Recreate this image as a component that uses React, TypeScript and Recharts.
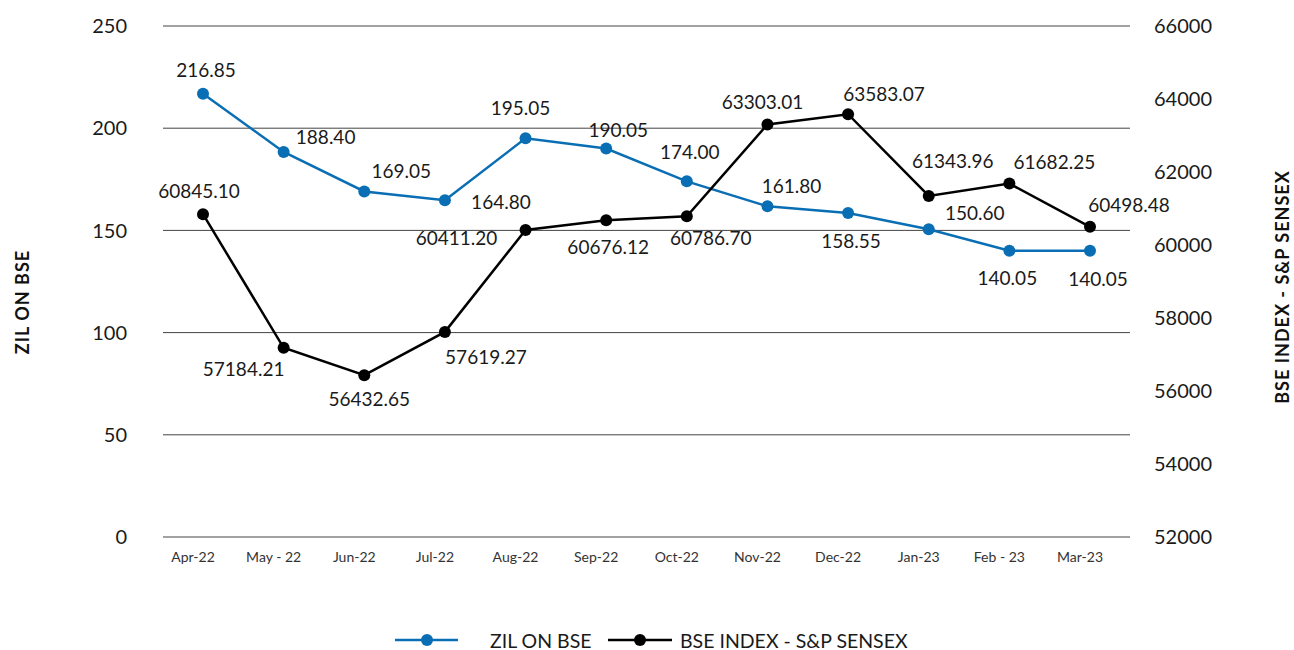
import { LineChart, Line, XAxis, YAxis, CartesianGrid, Legend } from "recharts"

const months = ["Apr-22", "May - 22", "Jun-22", "Jul-22", "Aug-22", "Sep-22", "Oct-22", "Nov-22", "Dec-22", "Jan-23", "Feb - 23", "Mar-23"]
const zilOnBse = [216.85, 188.4, 169.05, 164.8, 195.05, 190.05, 174.0, 161.8, 158.55, 150.6, 140.05, 140.05]
const sensex = [60845.1, 57184.21, 56432.65, 57619.27, 60411.2, 60676.12, 60786.7, 63303.01, 63583.07, 61343.96, 61682.25, 60498.48]
const zilTicks = [0, 50, 100, 150, 200, 250]
const sensexTicks = [52000, 54000, 56000, 58000, 60000, 62000, 64000, 66000]

const ZIL_NAME = "ZIL ON BSE"
const SENSEX_NAME = "BSE INDEX - S&P SENSEX"

// where each value label sits relative to its point (dx, dy)
const zilLabelPos = [[3, -24], [42, -15], [37, -21], [56, 1], [-5, -31], [12, -19], [3, -30], [24, -21], [3, 28], [46, -17], [-2, 27], [8, 28]]
const sensexLabelPos = [[-4, -24], [-40, 21], [5, 23], [41, 25], [-69, 8], [2, 26], [24, 21], [-5, -23], [36, -21], [24, -35], [45, -22], [39, -22]]

const BLUE = "#0a6eb4"
const FONT = "Lato, 'Open Sans', sans-serif"

const data = months.map((m, i) => ({ month: m, zil: zilOnBse[i], sensex: sensex[i] }))

function makeDot(color: string, offsets: number[][], digits: number) {
  return (p: any) => {
    const { cx, cy, index, value } = p
    const [dx, dy] = offsets[index] || [0, -20]
    return (
      <g key={`${color}-${index}`}>
        <circle cx={cx} cy={cy} r={6} fill={color} />
        <text
          x={cx + dx}
          y={cy + dy}
          textAnchor="middle"
          dominantBaseline="central"
          fontSize={19}
          fontFamily={FONT}
          fill="#1a1a1a"
        >
          {Number(value).toFixed(digits)}
        </text>
      </g>
    )
  }
}

function LegendBox() {
  return (
    <div style={{ position: "relative", height: 33 }}>
      <svg width={1294} height={33} style={{ position: "absolute", left: 0, top: 0 }}>
        <line x1={395} x2={458} y1={23} y2={23} stroke={BLUE} strokeWidth={2.5} />
        <circle cx={427} cy={23} r={6} fill={BLUE} />
        <text x={490} y={23} dominantBaseline="central" fontSize={19.5} fontFamily={FONT} fill="#1a1a1a">
          {ZIL_NAME}
        </text>
        <line x1={608} x2={672} y1={23} y2={23} stroke="#000" strokeWidth={2.5} />
        <circle cx={640} cy={23} r={6} fill="#000" />
        <text x={680} y={23} dominantBaseline="central" fontSize={19.5} fontFamily={FONT} fill="#1a1a1a">
          {SENSEX_NAME}
        </text>
      </svg>
    </div>
  )
}

function AxisTitle({ x, y, text }: { x: number; y: number; text: string }) {
  return (
    <text
      x={x}
      y={y}
      transform={`rotate(-90 ${x} ${y})`}
      textAnchor="middle"
      dominantBaseline="central"
      fontSize={18}
      fontWeight={700}
      fontFamily={FONT}
      fill="#111"
      letterSpacing={1}
    >
      {text}
    </text>
  )
}

export default function App() {
  const tickStyle = { fontSize: 20, fill: "#1a1a1a", fontFamily: FONT }
  return (
    <div style={{ position: "fixed", left: 0, top: 0, background: "#fff" }}>
      <LineChart width={1294} height={650} data={data} margin={{ top: 26, right: 0, left: 0, bottom: 0 }}>
        <CartesianGrid vertical={false} stroke="#444" strokeWidth={1} yAxisId="left" />
        <XAxis
          dataKey="month"
          height={80}
          padding={{ left: 40, right: 40 }}
          axisLine={false}
          tickLine={false}
          tickSize={0}
          tickMargin={15}
          interval={0}
          tick={{ fontSize: 14, fill: "#333", fontFamily: FONT, dx: -10 }}
        />
        <YAxis
          yAxisId="left"
          width={163}
          domain={[0, 250]}
          ticks={zilTicks}
          axisLine={false}
          tickLine={false}
          tickSize={0}
          tickMargin={36}
          tick={tickStyle}
          label={{ content: () => <AxisTitle x={22} y={302} text={ZIL_NAME} /> }}
        />
        <YAxis
          yAxisId="right"
          orientation="right"
          width={164}
          domain={[52000, 66000]}
          ticks={sensexTicks}
          axisLine={false}
          tickLine={false}
          tickSize={0}
          tickMargin={24}
          tick={tickStyle}
          label={{ content: () => <AxisTitle x={1282} y={287} text={SENSEX_NAME} /> }}
        />
        <Legend verticalAlign="bottom" content={() => <LegendBox />} />
        <Line
          yAxisId="left"
          dataKey="zil"
          name={ZIL_NAME}
          stroke={BLUE}
          strokeWidth={2.5}
          dot={makeDot(BLUE, zilLabelPos, 2)}
          activeDot={false}
          isAnimationActive={false}
        />
        <Line
          yAxisId="right"
          dataKey="sensex"
          name={SENSEX_NAME}
          stroke="#000"
          strokeWidth={2.5}
          dot={makeDot("#000", sensexLabelPos, 2)}
          activeDot={false}
          isAnimationActive={false}
        />
      </LineChart>
    </div>
  )
}
